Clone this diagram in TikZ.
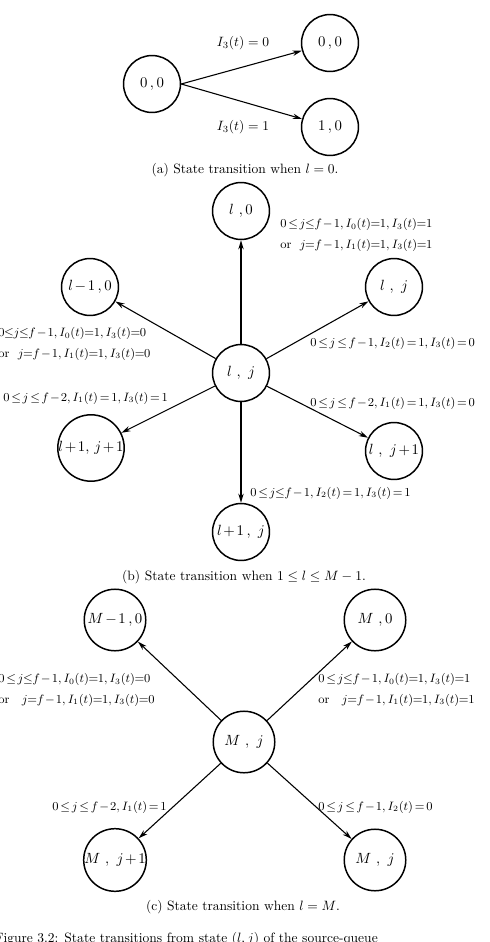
\documentclass[tikz,border=0pt]{standalone}
\usepackage{amsmath}
\usetikzlibrary{arrows.meta}

\begin{document}
\begin{tikzpicture}[
  x=0.026cm, y=-0.026cm,
  >={Stealth[length=2.4mm,width=1.4mm]},
  flow/.style={->, line width=0.8pt},
  state/.style={
    circle,
    draw,
    line width=1.1pt,
    minimum size=1.48cm,
    inner sep=0pt,
    font={\fontsize{11}{13}\selectfont\thickmuskip=3mu\medmuskip=2mu}
  },
  cond/.style={
    font={\small\thickmuskip=2.5mu\medmuskip=1.5mu},
    align=left,
    anchor=west,
    inner sep=0pt
  },
  subcap/.style={font=\normalsize}
]
\useasboundingbox (0,0) rectangle (490,942);

% (a) Transitions out of the empty state.
\node[state] (a00) at (152,84) {$0\,,0$};
\node[state] (a00n) at (330,43) {$0\,,0$};
\node[state] (a10) at (330,127) {$1\,,0$};
\draw[flow] (a00.east) -- (a00n);
\draw[flow] (a00.east) -- (a10);
\node[font=\normalsize] at (243,43) {$I_3(t)=0$};
\node[font=\normalsize] at (243,127) {$I_3(t)=1$};
\node[subcap] (capa) at (245,170) {(a) State transition when $l=0$.};

% (b) Interior states, six neighbours.
\node[state] (blj) at (241,373) {$l\ ,\ j$};
\node[state] (bl0) at (241,211) {$l\ ,0$};
\node[state] (blm0) at (90,287) {$l-1\,,0$};
\node[state] (bljr) at (394,287) {$l\ ,\ j$};
\node[state] (bl1j1) at (91,448) {$l+1,\,j+1$};
\node[state] (blj1) at (394,451) {$l\ ,\ j+1$};
\node[state] (bl1j) at (241,532) {$l+1\,,\ j$};
\draw[flow] (blj) -- (bl0);
\draw[flow] (blj) -- (blm0);
\draw[flow] (blj) -- (bljr);
\draw[flow] (blj) -- (bl1j1);
\draw[flow] (blj) -- (blj1);
\draw[flow] (blj) -- (bl1j);
\node[cond] at (280,235)
  {$0\le j\!\le\! f-1, I_0(t)\!=\!1, I_3(t)\!=\!1$\\[4pt]
   or\ \ $j\!=\! f-1, I_1(t)\!=\!1, I_3(t)\!=\!1$};
\node[cond] at (-2,344)
  {$0\!\le\! j\!\le\! f-1, I_0(t)\!=\!1, I_3(t)\!=\!0$\\[4pt]
   or\ \ $j\!=\!f-1, I_1(t)\!=\!1, I_3(t)\!=\!0$};
\node[cond] at (310,343) {$0\le j\le f-1, I_2(t)=1, I_3(t)=0$};
\node[cond] at (3,398) {$0\le j\le f-2, I_1(t)=1, I_3(t)=1$};
\node[cond] at (310,403) {$0\le j\le f-2, I_1(t)=1, I_3(t)=0$};
\node[cond] at (250,493) {$0\le j\!\le\! f-1, I_2(t)=1, I_3(t)=1$};
\node[subcap] (capb) at (244,577) {(b) State transition when $1\le l\le M-1$.};

% (c) Full source queue.
\node[state, minimum size=1.6cm] (cmj) at (244,742) {$M\ ,\ j$};
\node[state, minimum size=1.6cm] (cm10) at (115,620) {$M-1\,,0$};
\node[state, minimum size=1.6cm] (cm0) at (375,620) {$M\ ,0$};
\node[state, minimum size=1.6cm] (cmj1) at (115,860) {$M\ ,\ j+1$};
\node[state, minimum size=1.6cm] (cmjr) at (375,860) {$M\ ,\ j$};
\draw[flow] (cmj) -- (cm10);
\draw[flow] (cmj) -- (cm0);
\draw[flow] (cmj) -- (cmj1);
\draw[flow] (cmj) -- (cmjr);
\node[cond] at (-2,690)
  {$0\le j\!\le\! f-1, I_0(t)\!=\!1, I_3(t)\!=\!0$\\[4pt]
   or\ \ \ $j\!=\!f-1, I_1(t)\!=\!1, I_3(t)\!=\!0$};
\node[cond] at (318,690)
  {$0\le j\!\le\! f-1, I_0(t)\!=\!1, I_3(t)\!=\!1$\\[4pt]
   or\ \ \ $j\!=\!f-1, I_1(t)\!=\!1, I_3(t)\!=\!1$};
\node[cond, anchor=east] at (167,807) {$0\le j\le f-2, I_1(t)=1$};
\node[cond] at (318,807) {$0\le j\le f-1, I_2(t)=0$};
\node[subcap] (capc) at (243,907) {(c) State transition when $l=M$.};

\node[font=\normalsize, anchor=west] (capfig) at (-10,939)
  {Figure 3.2: State transitions from state $(l,j)$ of the source-queue};

\end{tikzpicture}
\end{document}
